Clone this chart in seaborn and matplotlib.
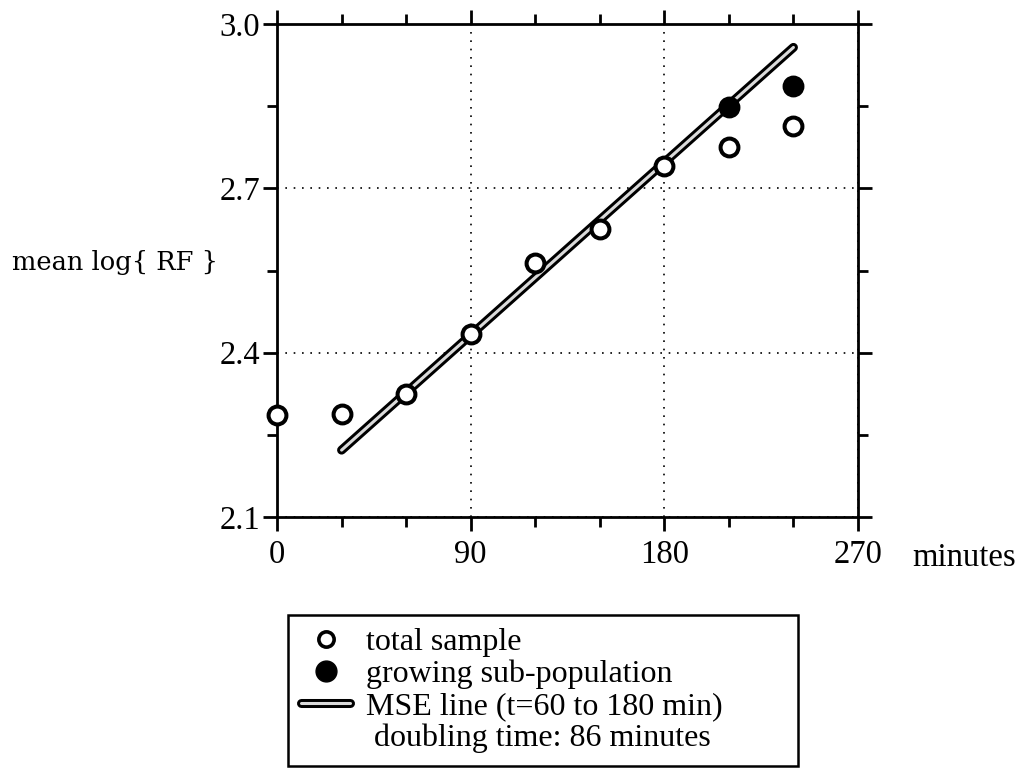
import numpy as np
import pandas as pd
import matplotlib
matplotlib.use("Agg")
import matplotlib.pyplot as plt
import matplotlib.patheffects as pe
from matplotlib.lines import Line2D
from matplotlib.ticker import FixedLocator
import seaborn as sns

# Time course of mean log{RF}
minutes = [0, 30, 60, 90, 120, 150, 180, 210, 240]
total_logrf = [2.287, 2.288, 2.324, 2.434, 2.563, 2.625, 2.740, 2.775, 2.813]
growing_minutes = [210, 240]
growing_logrf = [2.848, 2.886]

# MSE line fitted over t = 60..180 min, drawn from 30 to 240 min
fit_window = [60, 180]
line_span = [30, 240]
doubling_time = 86

x_ticks = [0, 90, 180, 270]
x_ticklabels = ["0", "90", "180", "270"]
x_minor = [30, 60, 120, 150, 210, 240]
y_ticks = [2.1, 2.4, 2.7, 3.0]
y_ticklabels = ["2.1", "2.4", "2.7", "3.0"]
y_minor = [2.25, 2.55, 2.85]

sns.set_theme(style="ticks")
plt.rcParams["font.family"] = ["Liberation Serif", "DejaVu Serif"]
plt.rcParams["axes.linewidth"] = 2.0
for key in ("text.color", "axes.labelcolor", "xtick.color", "ytick.color",
            "xtick.labelcolor", "ytick.labelcolor", "axes.edgecolor"):
    plt.rcParams[key] = "black"

total_df = pd.DataFrame({"minutes": minutes, "logrf": total_logrf})
growing_df = pd.DataFrame({"minutes": growing_minutes, "logrf": growing_logrf})

# slope from the doubling time, anchored at the mean of the fit window
slope = np.log10(2) / doubling_time
in_win = (total_df["minutes"] >= fit_window[0]) & (total_df["minutes"] <= fit_window[1])
intercept = total_df.loc[in_win, "logrf"].mean() - slope * total_df.loc[in_win, "minutes"].mean()
fit_df = pd.DataFrame({"minutes": line_span})
fit_df["logrf"] = intercept + slope * fit_df["minutes"]

fig = plt.figure(figsize=(10.23, 7.71), dpi=100)
ax = fig.add_axes([0.2708, 0.3294, 0.5679, 0.6395])

line_fx = [pe.Stroke(linewidth=6.5, foreground="black", capstyle="round"), pe.Normal()]
sns.lineplot(data=fit_df, x="minutes", y="logrf", ax=ax, color="#dadada", lw=2.2,
             solid_capstyle="round", path_effects=line_fx, zorder=3)

sns.scatterplot(data=total_df, x="minutes", y="logrf", ax=ax, marker="o", s=165,
                color="white", edgecolor="black", linewidth=2.9, zorder=5, clip_on=False)
sns.scatterplot(data=growing_df, x="minutes", y="logrf", ax=ax, marker="o", s=165,
                color="black", edgecolor="black", linewidth=2.9, zorder=6, clip_on=False)

ax.set_xlim(x_ticks[0], x_ticks[-1])
ax.set_ylim(y_ticks[0], y_ticks[-1])
ax.xaxis.set_major_locator(FixedLocator(x_ticks))
ax.xaxis.set_minor_locator(FixedLocator(x_minor))
ax.yaxis.set_major_locator(FixedLocator(y_ticks))
ax.yaxis.set_minor_locator(FixedLocator(y_minor))
ax.set_xticklabels(x_ticklabels)
ax.set_yticklabels(y_ticklabels)

for s in ax.spines.values():
    s.set_visible(True)
    s.set_linewidth(2.0)
    s.set_color("black")

ax.tick_params(which="both", direction="out", top=True, right=True,
               labeltop=False, labelright=False, color="black", width=2.0)
ax.tick_params(which="major", length=10, labelsize=23.5)
ax.tick_params(axis="x", which="major", pad=6)
ax.tick_params(axis="y", which="major", pad=2)
ax.tick_params(which="minor", length=7)

ax.grid(True, which="major", linestyle=(0, (1, 4)), linewidth=1.2, color="black")

ax.set_ylabel("mean log{ RF }", rotation=0, ha="right", va="center",
              family="DejaVu Serif", fontsize=18.5, color="black")
ax.yaxis.set_label_coords(-0.1015, 0.517)
ax.set_xlabel("minutes", ha="left", va="center", fontsize=23.5, color="black")
ax.xaxis.set_label_coords(1.093, -0.083)

handles = [
    Line2D([], [], ls="none", marker="o", ms=11, mfc="white", mec="black", mew=2.6),
    Line2D([], [], ls="none", marker="o", ms=15, mfc="black", mec="black"),
    Line2D([], [], color="#dadada", lw=2.2, solid_capstyle="round", path_effects=line_fx),
    Line2D([], [], ls="none"),
]
labels = [
    "total sample",
    "growing sub-population",
    f"MSE line (t={fit_window[0]} to {fit_window[1]} min)",
    f" doubling time: {doubling_time} minutes",
]
leg = fig.legend(handles, labels, loc="upper left",
                 bbox_to_anchor=(0.2815, 0.0052, 0.4985, 0.1971), mode="expand",
                 frameon=True, fancybox=False, edgecolor="black", framealpha=1,
                 fontsize=23, handlelength=1.55, handletextpad=0.5, borderpad=0.4,
                 labelspacing=0.08, borderaxespad=0)
leg.get_frame().set_linewidth(1.8)

fig.savefig("out.png", dpi=100, facecolor="white")
